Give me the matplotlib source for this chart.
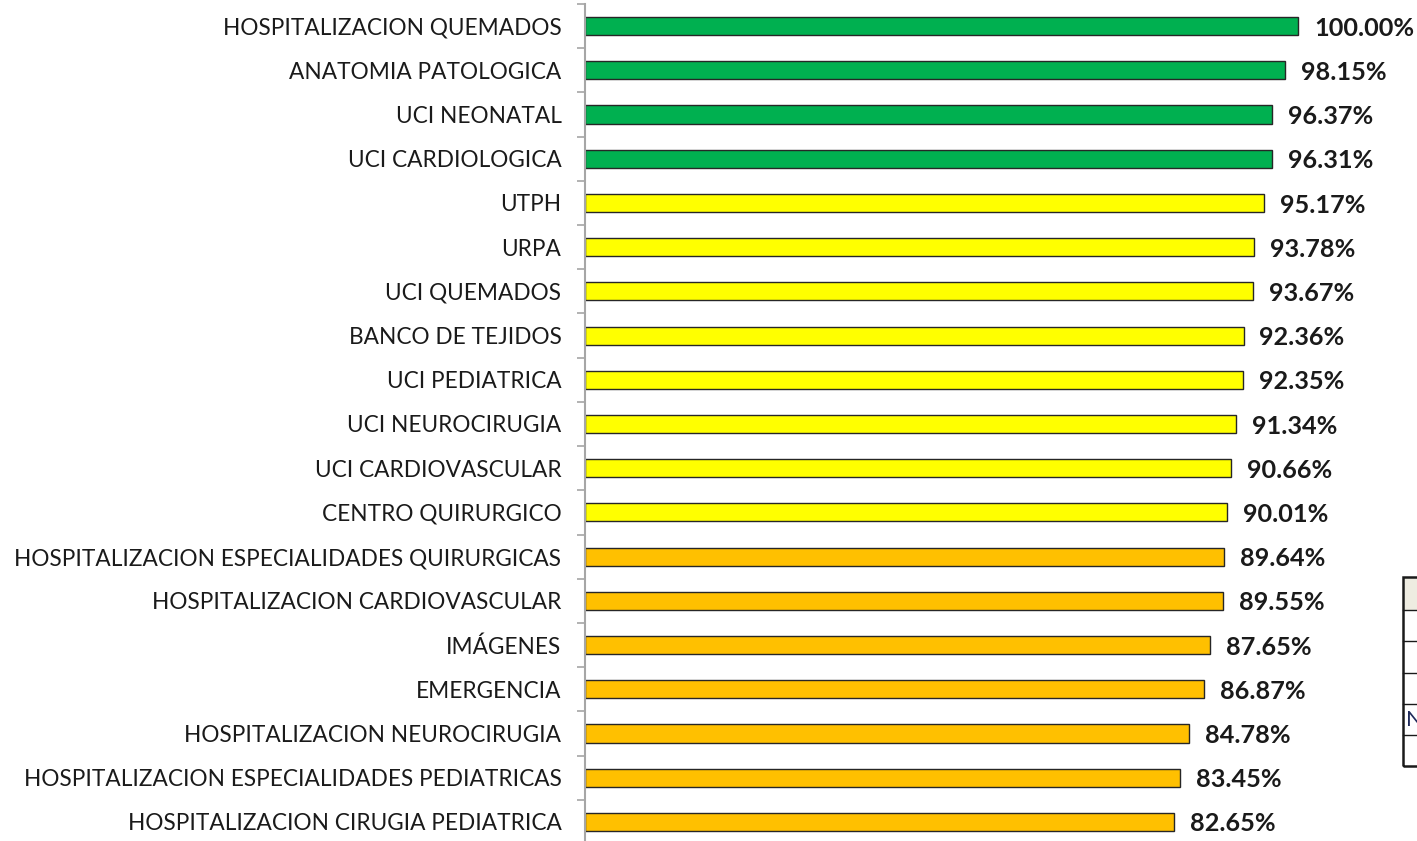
import matplotlib
matplotlib.use("Agg")
import matplotlib.pyplot as plt
from matplotlib.patches import Rectangle
from matplotlib.lines import Line2D

# Service areas and their compliance percentages (top to bottom)
areas = [
    "HOSPITALIZACION QUEMADOS",
    "ANATOMIA PATOLOGICA",
    "UCI NEONATAL",
    "UCI CARDIOLOGICA",
    "UTPH",
    "URPA",
    "UCI QUEMADOS",
    "BANCO DE TEJIDOS",
    "UCI PEDIATRICA",
    "UCI NEUROCIRUGIA",
    "UCI CARDIOVASCULAR",
    "CENTRO QUIRURGICO",
    "HOSPITALIZACION ESPECIALIDADES QUIRURGICAS",
    "HOSPITALIZACION CARDIOVASCULAR",
    "IMÁGENES",
    "EMERGENCIA",
    "HOSPITALIZACION NEUROCIRUGIA",
    "HOSPITALIZACION ESPECIALIDADES PEDIATRICAS",
    "HOSPITALIZACION CIRUGIA PEDIATRICA",
]
values = [100.00, 98.15, 96.37, 96.31, 95.17, 93.78, 93.67, 92.36, 92.35,
          91.34, 90.66, 90.01, 89.64, 89.55, 87.65, 86.87, 84.78, 83.45, 82.65]

GREEN, YELLOW, ORANGE = "#00B050", "#FFFF00", "#FFC000"


def band_color(v):
    if v >= 96:
        return GREEN
    if v >= 90:
        return YELLOW
    return ORANGE


colors = [band_color(v) for v in values]
FONT = ["Lato", "DejaVu Sans"]

W, H, DPI = 1417, 841, 100
fig = plt.figure(figsize=(W / DPI, H / DPI), dpi=DPI)
fig.patch.set_facecolor("white")

# axes: left spine at x=585 px, rows spanning y=4..844 px
ax_left = 585 / W
ax_top = 1 - 4 / H
ax_bottom = 1 - 844 / H
ax_width = (1417 - 585) / W
ax = fig.add_axes([ax_left, ax_bottom, ax_width, ax_top - ax_bottom])

n = len(areas)
ypos = list(range(n))
ax.barh(ypos, values, height=0.41, color=colors, edgecolor="#262626",
        linewidth=1.0, zorder=2)

# 100% bar ends at x=1298 px -> scale
px_per_unit = (1298 - 585) / 100.0
ax.set_xlim(0, (1417 - 585) / px_per_unit)
ax.set_ylim(n - 0.5, -0.5)

for y, v in zip(ypos, values):
    ax.annotate(f"{v:.2f}%", xy=(v, y), xytext=(11.5, -1.5),
                textcoords="offset points", ha="left", va="center",
                fontsize=18.2, fontweight="bold", color="#1a1a1a",
                family=FONT, clip_on=False)

ax.set_yticks(ypos)
ax.set_yticklabels(areas, fontsize=16.3, color="#1a1a1a", family=FONT)
ax.tick_params(axis="y", which="major", length=0, pad=17)
ax.set_yticks([i - 0.5 for i in range(n + 1)], minor=True)
ax.tick_params(axis="y", which="minor", length=6, width=1.2, color="#A6A6A6",
               direction="out")
ax.set_xticks([])

for s in ("top", "right", "bottom"):
    ax.spines[s].set_visible(False)
ax.spines["left"].set_color("#A6A6A6")
ax.spines["left"].set_linewidth(1.5)


# partial legend table at the right edge
def fy(py):
    return 1 - py / H


x0 = 1403 / W
hdr = Rectangle((x0, fy(610)), 1 - x0 + 0.01, fy(578) - fy(610),
                transform=fig.transFigure, facecolor="#EEECE1",
                edgecolor="none", zorder=1)
fig.add_artist(hdr)
fig.add_artist(Rectangle((x0, fy(766)), 1 - x0 + 0.01, fy(577) - fy(766),
                         transform=fig.transFigure, facecolor="none",
                         edgecolor="#1a1a1a", linewidth=1.8, zorder=3))
for py in (610, 641, 673, 704, 735):
    fig.add_artist(Line2D([x0, 1.0], [fy(py), fy(py)],
                          transform=fig.transFigure, color="#1a1a1a",
                          linewidth=1.0, zorder=3))
fig.text(1406 / W, fy(719.5), "N", fontsize=16, color="#1F2A5A",
         ha="left", va="center", family=FONT)

fig.savefig("out.png", dpi=DPI)
